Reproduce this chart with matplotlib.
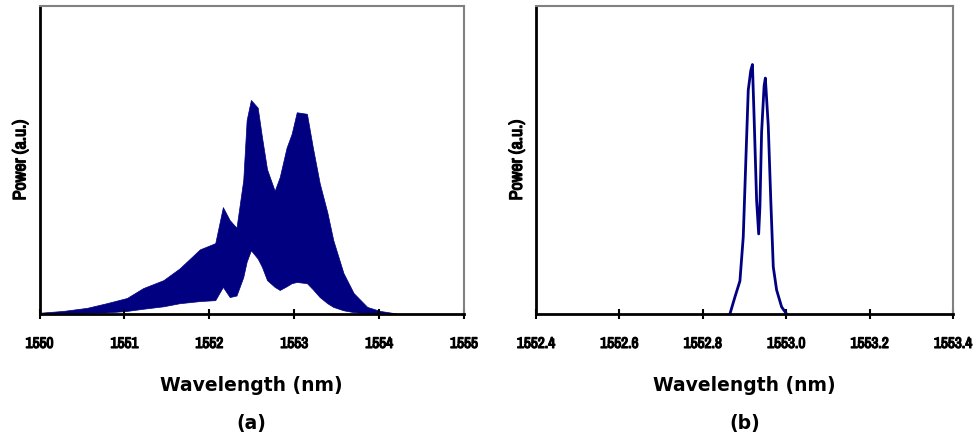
import matplotlib
matplotlib.use("Agg")
import matplotlib.pyplot as plt
from matplotlib import font_manager
import matplotlib.patheffects as pe

# Panel (a): envelope of the densely modulated spectrum
wl_a = [1550.0, 1550.28, 1550.56, 1550.79, 1551.03, 1551.22, 1551.46, 1551.65,
        1551.89, 1552.07, 1552.16, 1552.24, 1552.32, 1552.40, 1552.44, 1552.49,
        1552.57, 1552.62, 1552.68, 1552.77, 1552.83, 1552.91, 1552.97, 1553.03,
        1553.15, 1553.22, 1553.30, 1553.39, 1553.46, 1553.58, 1553.70, 1553.86,
        1554.01, 1554.2]
upper_a = [0.004, 0.01, 0.02, 0.035, 0.052, 0.084, 0.11, 0.148,
           0.21, 0.23, 0.347, 0.305, 0.28, 0.435, 0.63, 0.695,
           0.67, 0.575, 0.47, 0.40, 0.445, 0.54, 0.585, 0.655,
           0.65, 0.54, 0.425, 0.33, 0.24, 0.133, 0.068, 0.023,
           0.01, 0.002]
lower_a = [0.0, 0.003, 0.004, 0.005, 0.01, 0.017, 0.025, 0.035,
           0.042, 0.045, 0.088, 0.055, 0.06, 0.12, 0.17, 0.207,
           0.18, 0.153, 0.11, 0.088, 0.078, 0.09, 0.10, 0.104,
           0.10, 0.08, 0.055, 0.035, 0.023, 0.012, 0.006, 0.002,
           0.0, 0.0]

# Panel (b): filtered double-peaked line
wl_b = [1552.865, 1552.877, 1552.889, 1552.897, 1552.904, 1552.909, 1552.915,
        1552.919, 1552.923, 1552.929, 1552.934, 1552.937, 1552.941, 1552.947,
        1552.950, 1552.957, 1552.963, 1552.969, 1552.977, 1552.989, 1553.001]
power_b = [0.0, 0.055, 0.107, 0.25, 0.53, 0.727, 0.79,
           0.81, 0.64, 0.37, 0.26, 0.35, 0.59, 0.74,
           0.766, 0.61, 0.37, 0.153, 0.078, 0.023, 0.0]

ticks_a = [1550, 1551, 1552, 1553, 1554, 1555]
ticklabels_a = ["1550", "1551", "1552", "1553", "1554", "1555"]
ticks_b = [1552.4, 1552.6, 1552.8, 1553.0, 1553.2, 1553.4]
ticklabels_b = ["1552.4", "1552.6", "1552.8", "1553.0", "1553.2", "1553.4"]

# find a narrow/condensed family if one is installed
narrow = None
for f in font_manager.fontManager.ttflist:
    n = f.name
    if "Narrow" in n or "Condensed" in n:
        narrow = n
        break
if narrow is None:
    for f in font_manager.fontManager.ttflist:
        if f.stretch in ("condensed", "semi-condensed", "extra-condensed") or \
           (isinstance(f.stretch, int) and f.stretch < 500):
            narrow = f.name
            break
if narrow is not None:
    narrow_family = [narrow, "Liberation Sans", "DejaVu Sans"]
    tick_size = 11
    ylab_size = 13
    stroke = [pe.withStroke(linewidth=0.9, foreground="black")]
else:
    narrow_family = ["Liberation Sans", "DejaVu Sans"]
    tick_size = 8.5
    ylab_size = 10.5
    stroke = []

navy = "#000080"
fig = plt.figure(figsize=(9.74, 4.33), dpi=100)
ax_a = fig.add_axes([39.5 / 974, 119 / 433, 424.5 / 974, 308 / 433])
ax_b = fig.add_axes([536 / 974, 119 / 433, 417 / 974, 308 / 433])

ax_a.fill_between(wl_a, lower_a, upper_a, color=navy, linewidth=0.5, edgecolor=navy)
ax_b.plot(wl_b, power_b, color=navy, linewidth=2)

tickfont = dict(family=narrow_family, weight="bold", size=tick_size, stretch="condensed")
labfont = dict(family="DejaVu Sans", weight="bold", size=13.5)

for ax, ticks, labels, xlim, tag in [
    (ax_a, ticks_a, ticklabels_a, (1550, 1555), "(a)"),
    (ax_b, ticks_b, ticklabels_b, (1552.4, 1553.4), "(b)"),
]:
    ax.set_xlim(*xlim)
    ax.set_ylim(0, 1)
    ax.set_xticks(ticks)
    ax.set_xticklabels(labels, **tickfont)
    for t in ax.get_xticklabels():
        t.set_path_effects(stroke)
    ax.set_yticks([])
    ax.tick_params(axis="x", direction="inout", length=7, width=1.5, pad=13, color="black")
    ax.spines["left"].set_color("black")
    ax.spines["left"].set_linewidth(2)
    ax.spines["bottom"].set_color("black")
    ax.spines["bottom"].set_linewidth(2)
    ax.spines["top"].set_color("#808080")
    ax.spines["top"].set_linewidth(1.5)
    ax.spines["right"].set_color("#808080")
    ax.spines["right"].set_linewidth(1.5)
    ax.set_xlabel("Wavelength (nm)", labelpad=18, **labfont)
    yl = ax.set_ylabel("Power (a.u.)", labelpad=8, family=narrow_family,
                       weight="bold", size=ylab_size, stretch="condensed")
    yl.set_path_effects(stroke)
    ax.text(0.5, -0.355, tag, transform=ax.transAxes, ha="center", va="center", **labfont)

fig.savefig("out.png", dpi=100)
